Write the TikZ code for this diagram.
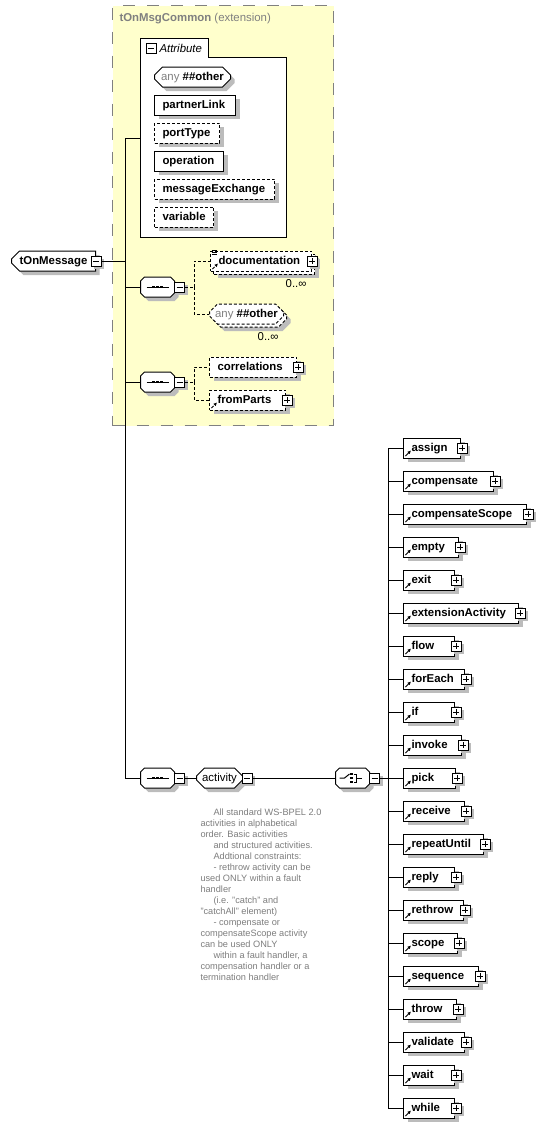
\documentclass[tikz,border=0pt]{standalone}
\usepackage{fontspec}
\setmainfont{Liberation Sans}
\definecolor{xsyellow}{RGB}{255,255,204}
\definecolor{xsgray}{RGB}{128,128,128}
\definecolor{xsshadow}{RGB}{188,188,188}
\definecolor{xsnote}{RGB}{125,125,125}
\usetikzlibrary{arrows.meta,shapes.misc,shadows}
\newcommand\xsfont{\fontsize{11.4}{13}\selectfont}
\newcommand\anyother{{\mdseries\color{xsgray}any}\ \textbf{\#\#other}}

\begin{document}
\hyphenpenalty=10000
\begin{tikzpicture}[x=1pt,y=-1pt,line width=1pt,font=\xsfont,
      boxshadow/.style={preaction={draw=none,fill=xsshadow,
                        transform canvas={shift={(4pt,-4pt)}}}},
      smallshadow/.style={preaction={draw=none,fill=xsshadow,
                        transform canvas={shift={(3pt,-3pt)}}}},
      multi/.style={preaction={draw=none,fill=xsshadow,
                        transform canvas={shift={(7pt,-7pt)}}},
                    preaction={draw,fill=white,dash pattern=on 3pt off 2pt,
                        transform canvas={shift={(3pt,-3pt)}}}},
      opt/.style={dash pattern=on 3pt off 2pt},
      lbl/.style={inner sep=0pt,anchor=west},
      basebox/.style={draw=xsgray,fill=xsyellow,line width=1.3pt,
                      dash pattern=on 12pt off 12pt,inner sep=0pt},
      elem/.style={draw,fill=white,rectangle,anchor=west,minimum height=20pt,
                   inner xsep=8pt,inner ysep=0pt,text height=9pt,text depth=2pt,
                   text width=#1pt,align=left,font=\xsfont\bfseries,boxshadow},
      octo/.style={draw,fill=white,chamfered rectangle,chamfered rectangle xsep=4pt,
                   chamfered rectangle ysep=4pt,anchor=west,minimum height=20pt,
                   minimum width=#1pt,inner sep=0pt,text height=9pt,text depth=2pt},
      refmark/.style={path picture={\draw[black,line width=0.8pt,
                   -{Latex[length=3.5pt,width=3.5pt,fill=black]}]
                   ([xshift=2pt,yshift=2pt]path picture bounding box.south west) -- ++(5.5pt,5.5pt);}},
      expbox/.style={draw,fill=white,rectangle,minimum size=10pt,inner sep=0pt},
      minusflat/.style={expbox,path picture={\draw[line width=0.9pt]
                   ([xshift=2pt]path picture bounding box.west) --
                   ([xshift=-2pt]path picture bounding box.east);}},
      minusbox/.style={minusflat,smallshadow},
      plusbox/.style={expbox,smallshadow,
                   path picture={\draw[line width=0.9pt]
                   ([xshift=2pt]path picture bounding box.west) --
                   ([xshift=-2pt]path picture bounding box.east)
                   ([yshift=-2pt]path picture bounding box.north) --
                   ([yshift=2pt]path picture bounding box.south);}},
      seqmark/.style={path picture={
                   \draw ([xshift=-11pt]path picture bounding box.center) --
                         ([xshift=11pt]path picture bounding box.center);
                   \foreach \dx in {-4,0,4}
                     \fill[black] ([xshift=\dx pt]path picture bounding box.center)
                           +(-1.5pt,-1.3pt) rectangle +(1.5pt,1.3pt);}},
      choicemark/.style={path picture={
                   \coordinate (cm) at (path picture bounding box.center);
                   \draw (cm) ++(-13pt,0pt) -- ++(5pt,0pt) -- ++(5pt,4pt);
                   \foreach \dy in {-4,0,4}
                     \fill[black] ([shift={(-1pt,\dy pt)}]cm) +(-1.2pt,-1.2pt) rectangle +(1.2pt,1.2pt);
                   \draw ([shift={(1pt,4pt)}]cm) -- ++(3pt,0pt) -- ++(0pt,-8pt) -- ++(-3pt,0pt)
                         ([shift={(4pt,0pt)}]cm) -- ++(5pt,0pt);}}]

  \useasboundingbox (0,0) rectangle (555,1128);

  % base type tOnMsgCommon
  \node[basebox,anchor=north west,minimum width=221pt,minimum height=420pt] (base) at (112,5) {};
  \node[lbl,text=xsgray] (base-title) at (119,19) {\textbf{tOnMsgCommon} (extension)};

  % attributes
  \draw[fill=white] (140,237) -- (140,38) -- (208,38) -- (208,57) -- (286,57) -- (286,237) -- cycle;
  \node[minusflat] (attr-x) at (151,48) {};
  \node[lbl,font=\xsfont\itshape] (attr-title) at (159,48) {Attribute};
  \coordinate (attr-in) at (140,138);

  \node[octo=76,boxshadow] (att-any) at (154,77) {\anyother};
  \node[elem=65] (partnerLink) at (154,105) {partnerLink};
  \node[elem=49,opt] (portType) at (154,133) {portType};
  \node[elem=53] (operation) at (154,161) {operation};
  \node[elem=104,opt] (messageExchange) at (154,189) {messageExchange};
  \node[elem=43,opt] (variable) at (154,217) {variable};

  % root element
  \node[octo=84,chamfered rectangle corners={north west,south west},boxshadow,
        font=\xsfont\bfseries] (tOnMessage) at (11,261) {tOnMessage};
  \node[minusbox] (tOnMessage-x) at (96,261) {};
  \coordinate (spine) at (125,261);

  % first sequence
  \node[octo=34,boxshadow,seqmark] (seq1) at (140,287) {};
  \node[minusbox] (seq1-x) at (179.5,287) {};
  \coordinate (seq1-fork) at (194,287);
  \node[elem=85,opt,multi,refmark] (documentation) at (210,261) {documentation};
  \node[plusbox] (documentation-x) at (312,261) {};
  \foreach \d in {0,2,4}
    \draw[line width=0.8pt] ([xshift=1.5pt,yshift=-\d pt]documentation.north west) -- ++(5pt,0pt);
  \node[lbl,anchor=east] (documentation-occ) at (307,284) {0..∞};
  \node[octo=74,opt,multi] (anyother) at (209,314) {\anyother};
  \node[lbl,anchor=east] (anyother-occ) at (279,337) {0..∞};

  % second sequence
  \node[octo=34,boxshadow,seqmark] (seq2) at (140,382) {};
  \node[minusbox] (seq2-x) at (179.5,382) {};
  \coordinate (seq2-fork) at (194,382);
  \node[elem=71,opt] (correlations) at (209,367) {correlations};
  \node[plusbox] (correlations-x) at ([xshift=1pt]correlations.east) {};
  \node[elem=60,opt,refmark] (fromParts) at (209,400) {fromParts};
  \node[plusbox] (fromParts-x) at ([xshift=1pt]fromParts.east) {};

  % third sequence: activity group
  \node[octo=34,boxshadow,seqmark] (seq3) at (140,778) {};
  \node[minusbox] (seq3-x) at (179.5,778) {};
  \node[octo=46,boxshadow] (activity) at (196,778) {activity};
  \node[minusbox] (activity-x) at (247,778) {};
  \node[inner sep=0pt,anchor=north west,align=left,text=xsnote,
        font=\fontsize{9.2}{11}\selectfont] (activity-doc) at (200,808.5)
    {\hspace*{13pt}All standard WS-BPEL 2.0\\
     activities in alphabetical\\
     order. Basic activities\\
     \hspace*{13pt}and structured activities.\\
     \hspace*{13pt}Addtional constraints:\\
     \hspace*{13pt}- rethrow activity can be\\
     used ONLY within a fault\\
     handler\\
     \hspace*{13pt}(i.e. "catch" and\\
     "catchAll" element)\\
     \hspace*{13pt}- compensate or\\
     compensateScope activity\\
     can be used ONLY\\
     \hspace*{13pt}within a fault handler, a\\
     compensation handler or a\\
     termination handler};
  \node[octo=34,boxshadow,choicemark] (choice) at (335,778) {};
  \node[minusbox] (choice-x) at (374.5,778) {};
  \coordinate (choice-fork) at (388,778);

  % connectors
  \draw (tOnMessage-x.east) -- (spine);
  \draw (spine) |- (attr-in);
  \draw (spine) |- (seq1.west);
  \draw (spine) |- (seq2.west);
  \draw (spine) |- (seq3.west);
  \draw[opt] (seq1-x.east) -- (seq1-fork);
  \draw[opt] (seq1-fork) |- (documentation.west);
  \draw[opt] (seq1-fork) |- (anyother.west);
  \draw[opt] (seq2-x.east) -- (seq2-fork);
  \draw[opt] (seq2-fork) |- (correlations.west);
  \draw[opt] (seq2-fork) |- (fromParts.west);
  \draw (seq3-x.east) -- (activity.west);
  \draw (activity-x.east) -- (choice.west);
  \draw (choice-x.east) -- (choice-fork);

  % choice of activities
  \foreach \name/\tw [count=\i from 0] in {assign/41,compensate/74,compensateScope/107,
      empty/39,exit/35,extensionActivity/99,flow/35,forEach/45,if/35,invoke/42,pick/36,
      receive/45,repeatUntil/64,reply/35,rethrow/44,scope/38,sequence/59,throw/37,
      validate/45,wait/35,while/35}{
    \node[elem=\tw,refmark] (\name) at (403,448+33*\i) {\name};
    \node[plusbox] (\name-x) at ([xshift=1pt]\name.east) {};
    \draw (choice-fork) |- (\name.west);
  }
\end{tikzpicture}
\end{document}
